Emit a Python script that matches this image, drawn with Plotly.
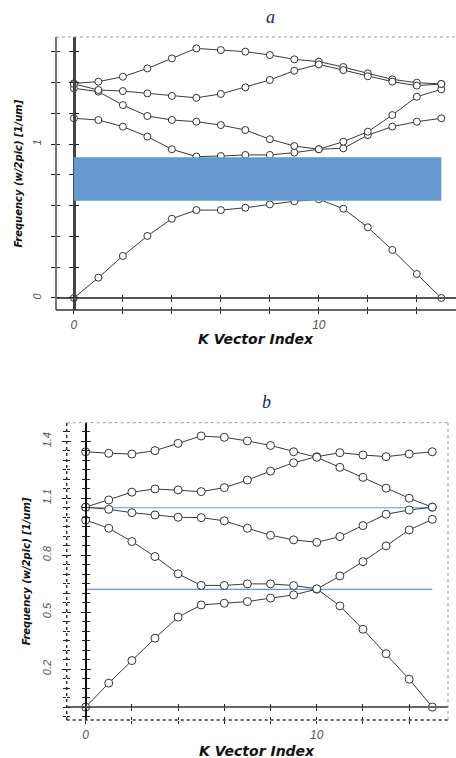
import plotly.graph_objects as go

W, H = 456, 758

# ---------------- data ----------------
k_index = list(range(16))
x_tick_vals = [0, 2, 4, 6, 8, 10, 12, 14]
x_tick_text = ["0", "", "", "", "", "10", "", ""]

# panel a
a_band1 = [0.0, 0.132, 0.273, 0.403, 0.515, 0.571, 0.571, 0.586, 0.608, 0.628, 0.641, 0.58, 0.459, 0.312, 0.156, 0.0]
a_band2 = [1.167, 1.156, 1.113, 1.048, 0.966, 0.918, 0.922, 0.929, 0.929, 0.944, 0.966, 0.972, 1.058, 1.113, 1.145, 1.167]
a_band3 = [1.362, 1.34, 1.253, 1.182, 1.156, 1.145, 1.123, 1.091, 1.031, 0.987, 0.966, 1.015, 1.08, 1.188, 1.307, 1.355]
a_band4 = [1.394, 1.405, 1.437, 1.491, 1.556, 1.621, 1.61, 1.6, 1.578, 1.55, 1.535, 1.50, 1.459, 1.42, 1.398, 1.39]
a_band5 = [1.39, 1.351, 1.344, 1.329, 1.312, 1.30, 1.325, 1.368, 1.416, 1.476, 1.517, 1.48, 1.44, 1.405, 1.379, 1.39]
a_gap = [0.632, 0.914]
a_y_tick_vals = [0, 0.2, 0.4, 0.6, 0.8, 1.0, 1.2, 1.4, 1.6]
a_y_tick_text = ["0", "", "", "", "", "1", "", "", ""]

# panel b
b_band1 = [0.0, 0.126, 0.245, 0.363, 0.474, 0.538, 0.547, 0.556, 0.574, 0.591, 0.621, 0.691, 0.766, 0.849, 0.933, 0.989]
b_band2 = [0.985, 0.942, 0.872, 0.793, 0.702, 0.641, 0.641, 0.649, 0.649, 0.64, 0.623, 0.533, 0.41, 0.281, 0.147, 0.0]
b_band3 = [1.053, 1.042, 1.024, 1.012, 1.0, 0.998, 0.981, 0.942, 0.905, 0.881, 0.868, 0.898, 0.956, 1.016, 1.038, 1.053]
b_band4 = [1.053, 1.091, 1.132, 1.149, 1.144, 1.135, 1.156, 1.196, 1.243, 1.287, 1.319, 1.34, 1.328, 1.319, 1.333, 1.345]
b_band5 = [1.345, 1.337, 1.333, 1.351, 1.389, 1.428, 1.421, 1.402, 1.378, 1.345, 1.316, 1.263, 1.21, 1.153, 1.1, 1.053]
b_levels = [1.05, 0.62]
b_y_major = [0.2, 0.5, 0.8, 1.1, 1.4]
b_y_major_text = ["0.2", "0.5", "0.8", "1.1", "1.4"]

# ---------------- layout helpers ----------------
def pxx(p):
    return p / W

def pxy(p):
    return 1 - p / H

panels = [
    dict(title="a", bands=[a_band1, a_band2, a_band3, a_band4, a_band5],
         xdom=[pxx(56), 1.0], ydom=[pxy(310), pxy(37)],
         xr=[-0.73, 15.6], yr=[-0.078, 1.695], msize=7,
         title_px=(270, 17), ytitle_x=18, xtitle_y=339,
         frame_color="#777777", frame_dash="solid", frame_w=2,
         zx_color="#444444", zx_w=2.5, zy_color="#555555", zy_w=1.5),
    dict(title="b", bands=[b_band1, b_band2, b_band3, b_band4, b_band5],
         xdom=[pxx(66.7), pxx(448)], ydom=[pxy(720), pxy(422.7)],
         xr=[-0.82, 15.68], yr=[-0.068, 1.498], msize=8,
         title_px=(266, 402), ytitle_x=26, xtitle_y=751,
         frame_color="#333333", frame_dash="dot", frame_w=1.5,
         zx_color="#111111", zx_w=2, zy_color="#666666", zy_w=1.5),
]

tick_font = dict(family="Liberation Sans", size=12, color="#555555", style="italic")
line_col = "#3a3a3a"
tick_col = "#222222"

fig = go.Figure()
layout = dict(width=W, height=H, margin=dict(l=0, r=0, t=0, b=0),
              paper_bgcolor="white", plot_bgcolor="white", showlegend=False)
shapes, annotations = [], []
next_id = [3]


def new_id():
    i = next_id[0]
    next_id[0] += 1
    return i


def anchor_trace(xa, ya):
    # empty trace so that an overlay axis gets its own subplot and is drawn
    fig.add_trace(go.Scatter(x=[], y=[], xaxis=xa, yaxis=ya, mode="markers",
                             hoverinfo="skip", showlegend=False))


for pi, p in enumerate(panels):
    n = "" if pi == 0 else str(pi + 1)
    xa, ya = "x" + n, "y" + n
    xkey, ykey = "xaxis" + n, "yaxis" + n

    if pi == 0:
        ytick = dict(tickmode="array", tickvals=a_y_tick_vals, ticktext=a_y_tick_text)
        minor_dt = None
    else:
        ytick = dict(tickmode="array", tickvals=b_y_major, ticktext=b_y_major_text)
        minor_dt = 0.05

    base_x = dict(domain=p["xdom"], range=p["xr"], anchor=ya, showgrid=False, zeroline=False,
                  showline=False, tickmode="array", tickvals=x_tick_vals, ticktext=x_tick_text,
                  ticks="outside", ticklen=3, tickcolor=tick_col, tickfont=tick_font,
                  ticklabelstandoff=1)
    base_y = dict(domain=p["ydom"], range=p["yr"], anchor=xa, showgrid=False, zeroline=False,
                  showline=False, ticks="outside", ticklen=4, tickcolor=tick_col,
                  tickfont=dict(tick_font, size=11), tickangle=-90, ticklabelstandoff=6, **ytick)
    if minor_dt:
        base_y["minor"] = dict(dtick=minor_dt, tick0=0, ticklen=3, tickcolor=tick_col,
                               ticks="outside")
    layout[xkey] = base_x
    layout[ykey] = base_y

    # inside ticks at the frame (crossing ticks)
    i = new_id()
    layout["xaxis%d" % i] = dict(overlaying=xa, anchor=ya, side="bottom", range=p["xr"],
                                 showgrid=False, zeroline=False, showline=False,
                                 tickmode="array", tickvals=x_tick_vals, ticks="inside",
                                 ticklen=3, tickcolor=tick_col, showticklabels=False)
    anchor_trace("x%d" % i, ya)
    i = new_id()
    d = dict(overlaying=ya, anchor=xa, side="left", range=p["yr"], showgrid=False,
             zeroline=False, showline=False, ticks="inside", ticklen=4,
             tickcolor=tick_col, showticklabels=False, tickmode="array",
             tickvals=ytick["tickvals"])
    if minor_dt:
        d["minor"] = dict(dtick=minor_dt, tick0=0, ticklen=3, tickcolor=tick_col, ticks="inside")
    layout["yaxis%d" % i] = d
    anchor_trace(xa, "y%d" % i)

    # zero lines as free axes with crossing ticks
    y0_pos = p["ydom"][0] + (0 - p["yr"][0]) / (p["yr"][1] - p["yr"][0]) * (p["ydom"][1] - p["ydom"][0])
    x0_pos = p["xdom"][0] + (0 - p["xr"][0]) / (p["xr"][1] - p["xr"][0]) * (p["xdom"][1] - p["xdom"][0])
    for tk in ("outside", "inside"):
        i = new_id()
        layout["xaxis%d" % i] = dict(overlaying=xa, anchor="free", position=y0_pos, side="bottom",
                                     range=p["xr"], showgrid=False, zeroline=False,
                                     showline=(tk == "outside"), linecolor=p["zy_color"],
                                     linewidth=p["zy_w"], tickmode="array", tickvals=x_tick_vals,
                                     ticks=tk, ticklen=3, tickcolor=tick_col,
                                     showticklabels=False)
        anchor_trace("x%d" % i, ya)
        i = new_id()
        d = dict(overlaying=ya, anchor="free", position=x0_pos, side="left", range=p["yr"],
                 showgrid=False, zeroline=False, showline=(tk == "outside"),
                 linecolor=p["zx_color"], linewidth=p["zx_w"], ticks=tk, ticklen=4,
                 tickcolor=tick_col, showticklabels=False, tickmode="array",
                 tickvals=ytick["tickvals"])
        if minor_dt:
            d["minor"] = dict(dtick=minor_dt, tick0=0, ticklen=3, tickcolor=tick_col, ticks=tk)
        layout["yaxis%d" % i] = d
        anchor_trace(xa, "y%d" % i)

    # reference lines (panel b)
    if pi == 1:
        for lv in b_levels:
            fig.add_trace(go.Scatter(x=[k_index[0], k_index[-1]], y=[lv, lv], mode="lines",
                                     line=dict(color="#5b9bd5", width=1.2),
                                     xaxis=xa, yaxis=ya, hoverinfo="skip"))

    # bands
    for band in p["bands"]:
        fig.add_trace(go.Scatter(x=k_index, y=band, mode="lines+markers",
                                 line=dict(color=line_col, width=1),
                                 marker=dict(symbol="circle", size=p["msize"], color="white",
                                             line=dict(color="#333333", width=1)),
                                 xaxis=xa, yaxis=ya))

    # band gap rectangle (panel a)
    if pi == 0:
        shapes.append(dict(type="rect", xref=xa, yref=ya, x0=k_index[0], x1=k_index[-1],
                           y0=a_gap[0], y1=a_gap[1], fillcolor="#6598cc",
                           line=dict(width=0), layer="above"))

    # frame lines
    xd, yd = xa + " domain", ya + " domain"
    shapes.append(dict(type="line", xref=xd, yref=yd, x0=0, x1=0, y0=0, y1=1,
                       line=dict(color=p["frame_color"], width=p["frame_w"], dash=p["frame_dash"])))
    shapes.append(dict(type="line", xref=xd, yref=yd, x0=0, x1=1, y0=0, y1=0,
                       line=dict(color="#333333", width=1.5, dash=p["frame_dash"])))
    shapes.append(dict(type="line", xref=xd, yref=yd, x0=0, x1=1, y0=1, y1=1,
                       line=dict(color="#999999", width=1, dash="dot")))
    if pi == 1:
        shapes.append(dict(type="line", xref=xd, yref=yd, x0=1, x1=1, y0=0, y1=1,
                           line=dict(color="#999999", width=1, dash="dot")))

    # titles
    annotations.append(dict(text=p["title"], xref="paper", yref="paper",
                            x=pxx(p["title_px"][0]), y=pxy(p["title_px"][1]),
                            showarrow=False, xanchor="center", yanchor="middle",
                            font=dict(family="Liberation Serif", size=18, color="#1c2a5a",
                                      style="italic")))
    annotations.append(dict(text="K Vector Index", xref="paper", yref="paper",
                            x=(p["xdom"][0] + p["xdom"][1]) / 2,
                            y=pxy(p["xtitle_y"]), showarrow=False,
                            xanchor="center", yanchor="middle",
                            font=dict(family="DejaVu Sans", size=14, color="#111111",
                                      weight="bold", style="italic")))
    annotations.append(dict(text="Frequency (w/2pic) [1/um]", xref="paper", yref="paper",
                            x=pxx(p["ytitle_x"]), y=(p["ydom"][0] + p["ydom"][1]) / 2,
                            showarrow=False, textangle=-90, xanchor="center", yanchor="middle",
                            font=dict(family="DejaVu Sans", size=10, color="#111111",
                                      weight="bold", style="italic")))

layout["shapes"] = shapes
layout["annotations"] = annotations
fig.update_layout(**layout)
fig.write_html("out.html", config={"displayModeBar": False},
               post_script="document.body.style.margin='0';document.body.style.padding='0';")
